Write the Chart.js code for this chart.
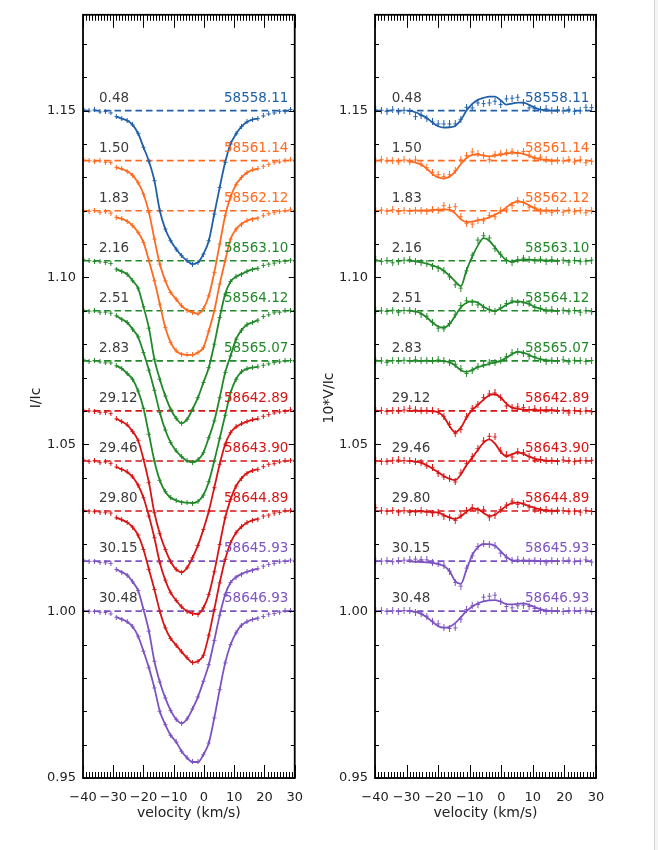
<!DOCTYPE html>
<html>
<head>
<meta charset="utf-8">
<script src="https://cdn.jsdelivr.net/npm/chart.js@4.4.0/dist/chart.umd.min.js"></script>
<style>
html, body { margin: 0; padding: 0; background: #fff; }
#wrap { position: relative; width: 658px; height: 850px; overflow: hidden; }
canvas { position: absolute; top: 0; }
#edge { position: absolute; left: 654px; top: 0; width: 4px; height: 850px; background: #f4f4f4; border-left: 1px solid #d4d4d4; }
</style>
</head>
<body>
<div id="wrap">
  <canvas id="stokesI" width="315" height="850" style="left:0"></canvas>
  <canvas id="stokesV" width="343" height="850" style="left:315px"></canvas>
  <div id="edge"></div>
</div>
<script>
// velocity grid of the observed points (km/s)
const vel = [-39.8, -38.0, -36.2, -34.4, -32.6, -30.8, -29.0, -27.2, -25.4, -23.6,
             -21.8, -20.0, -18.2, -16.4, -14.6, -12.8, -11.0, -9.2, -7.4, -5.6,
             -3.8, -2.0, -0.2, 1.6, 3.4, 5.2, 7.0, 8.8, 10.6, 12.4,
             14.2, 16.0, 17.8, 19.6, 21.4, 23.2, 25.0, 26.8, 28.6];
// the fit covers vel[6] .. vel[32]
const fitFrom = 6, fitTo = 33;

const xTicks = [-40, -30, -20, -10, 0, 10, 20, 30];
const yTicks = [0.95, 1.00, 1.05, 1.10, 1.15];

const phases = ['0.48', '1.50', '1.83', '2.16', '2.51', '2.83', '29.12', '29.46', '29.80', '30.15', '30.48'];
const dates = ['58558.11', '58561.14', '58562.12', '58563.10', '58564.12', '58565.07',
               '58642.89', '58643.90', '58644.89', '58645.93', '58646.93'];
const offsets = [0.150, 0.135, 0.120, 0.105, 0.090, 0.075, 0.060, 0.045, 0.030, 0.015, 0.000];

// Stokes I / Ic
const i58558 = [1.0004, 0.9999, 1.0002, 0.9996, 0.9997, 0.9993,
  0.9982, 0.9976, 0.9970, 0.9957, 0.9932, 0.9890, 0.9848, 0.9790, 0.9700, 0.9645, 0.9610, 0.9585, 0.9565, 0.9550,
  0.9540, 0.9545, 0.9570, 0.9610, 0.9690, 0.9770, 0.9845, 0.9900, 0.9930, 0.9952, 0.9966, 0.9973, 0.9976,
  0.9984, 0.9990, 0.9993, 0.9998, 0.9997, 1.0003];
const i58561 = [1.0002, 1.0000, 0.9997, 0.9999, 0.9995, 0.9994,
  0.9980, 0.9975, 0.9968, 0.9956, 0.9934, 0.9900, 0.9845, 0.9765, 0.9690, 0.9640, 0.9605, 0.9585, 0.9565, 0.9552,
  0.9545, 0.9541, 0.9556, 0.9595, 0.9665, 0.9750, 0.9835, 0.9892, 0.9928, 0.9950, 0.9964, 0.9972, 0.9976,
  0.9983, 0.9989, 0.9995, 0.9996, 1.0001, 1.0002];
const i58562 = [1.0001, 0.9998, 1.0001, 0.9995, 0.9997, 0.9993,
  0.9980, 0.9976, 0.9968, 0.9955, 0.9935, 0.9905, 0.9850, 0.9790, 0.9720, 0.9650, 0.9605, 0.9580, 0.9570, 0.9568,
  0.9568, 0.9575, 0.9590, 0.9640, 0.9700, 0.9780, 0.9850, 0.9915, 0.9945, 0.9960, 0.9970, 0.9975, 0.9978,
  0.9985, 0.9991, 0.9994, 0.9998, 1.0000, 1.0003];
const i58563 = [1.0003, 1.0000, 0.9998, 0.9997, 0.9995, 0.9992,
  0.9975, 0.9968, 0.9960, 0.9940, 0.9918, 0.9862, 0.9798, 0.9705, 0.9645, 0.9595, 0.9555, 0.9528, 0.9513, 0.9525,
  0.9555, 0.9590, 0.9635, 0.9680, 0.9750, 0.9830, 0.9900, 0.9938, 0.9952, 0.9960, 0.9968, 0.9974, 0.9977,
  0.9986, 0.9990, 0.9993, 0.9997, 0.9999, 1.0002];
const i58564 = [1.0002, 0.9999, 1.0000, 0.9996, 0.9996, 0.9993,
  0.9985, 0.9975, 0.9965, 0.9945, 0.9922, 0.9875, 0.9822, 0.9762, 0.9695, 0.9643, 0.9605, 0.9580, 0.9563, 0.9550,
  0.9546, 0.9553, 0.9575, 0.9620, 0.9670, 0.9740, 0.9815, 0.9865, 0.9915, 0.9942, 0.9958, 0.9965, 0.9972,
  0.9983, 0.9988, 0.9994, 0.9996, 1.0000, 1.0002];
const i58565 = [1.0003, 0.9998, 1.0001, 0.9997, 0.9994, 0.9994,
  0.9985, 0.9977, 0.9962, 0.9945, 0.9910, 0.9858, 0.9780, 0.9700, 0.9642, 0.9608, 0.9590, 0.9582, 0.9577, 0.9575,
  0.9574, 0.9579, 0.9598, 0.9638, 0.9700, 0.9768, 0.9837, 0.9905, 0.9945, 0.9967, 0.9976, 0.9980, 0.9982,
  0.9987, 0.9991, 0.9995, 0.9997, 1.0001, 1.0001];
const i58642 = [1.0002, 1.0000, 0.9999, 0.9996, 0.9996, 0.9992,
  0.9976, 0.9968, 0.9958, 0.9938, 0.9912, 0.9855, 0.9785, 0.9695, 0.9632, 0.9585, 0.9548, 0.9525, 0.9516, 0.9530,
  0.9560, 0.9597, 0.9645, 0.9700, 0.9770, 0.9840, 0.9900, 0.9935, 0.9952, 0.9961, 0.9968, 0.9973, 0.9976,
  0.9984, 0.9989, 0.9994, 0.9997, 0.9999, 1.0003];
const i58643 = [1.0003, 0.9999, 1.0001, 0.9995, 0.9997, 0.9993,
  0.9982, 0.9975, 0.9967, 0.9952, 0.9928, 0.9890, 0.9835, 0.9770, 0.9695, 0.9643, 0.9605, 0.9582, 0.9563, 0.9550,
  0.9543, 0.9541, 0.9560, 0.9600, 0.9668, 0.9750, 0.9830, 0.9885, 0.9925, 0.9948, 0.9963, 0.9971, 0.9975,
  0.9983, 0.9990, 0.9992, 0.9997, 1.0000, 1.0002];
const i58644 = [1.0002, 1.0000, 0.9998, 0.9997, 0.9995, 0.9994,
  0.9980, 0.9974, 0.9966, 0.9952, 0.9928, 0.9885, 0.9825, 0.9765, 0.9700, 0.9650, 0.9618, 0.9598, 0.9578, 0.9560,
  0.9546, 0.9550, 0.9568, 0.9628, 0.9705, 0.9785, 0.9855, 0.9905, 0.9935, 0.9953, 0.9965, 0.9972, 0.9976,
  0.9985, 0.9988, 0.9994, 0.9996, 1.0001, 1.0002];
const i58645 = [1.0003, 0.9999, 1.0000, 0.9996, 0.9995, 0.9993,
  0.9975, 0.9967, 0.9958, 0.9938, 0.9912, 0.9855, 0.9790, 0.9700, 0.9638, 0.9590, 0.9552, 0.9526, 0.9514, 0.9527,
  0.9557, 0.9593, 0.9640, 0.9690, 0.9762, 0.9838, 0.9900, 0.9936, 0.9952, 0.9961, 0.9968, 0.9973, 0.9977,
  0.9985, 0.9990, 0.9993, 0.9998, 0.9999, 1.0003];
const i58646 = [1.0002, 1.0000, 0.9999, 0.9997, 0.9996, 0.9992,
  0.9982, 0.9976, 0.9968, 0.9953, 0.9925, 0.9880, 0.9830, 0.9770, 0.9700, 0.9660, 0.9628, 0.9608, 0.9580, 0.9560,
  0.9548, 0.9548, 0.9570, 0.9605, 0.9680, 0.9765, 0.9845, 0.9900, 0.9935, 0.9958, 0.9968, 0.9975, 0.9979,
  0.9984, 0.9991, 0.9993, 0.9997, 1.0001, 1.0002];

// 10*V/Ic, observed
const v58558 = [0.0002, 0.0001, -0.0003, 0.0002, -0.0004, 0.0001,
  -0.0002, -0.0018, -0.0015, -0.0024, -0.0034, -0.0040, -0.0040, -0.0040, -0.0040, -0.0026, 0.0010, 0.0008, 0.0023, 0.0021,
  0.0023, 0.0028, 0.0018, 0.0035, 0.0037, 0.0040, 0.0023, 0.0008, 0.0006, 0.0003, 0.0005, 0.0000, 0.0002,
  -0.0001, 0.0004, -0.0002, -0.0001, 0.0010, 0.0009];
const v58561 = [0.0001, 0.0003, -0.0001, 0.0000, -0.0004, 0.0002,
  -0.0004, 0.0002, -0.0010, -0.0021, -0.0035, -0.0042, -0.0047, -0.0042, -0.0030, 0.0002, 0.0015, 0.0026, 0.0021, 0.0016,
  0.0004, 0.0019, 0.0022, 0.0024, 0.0028, 0.0021, 0.0027, 0.0017, 0.0006, 0.0010, 0.0004, -0.0002, 0.0001,
  -0.0001, 0.0003, -0.0004, 0.0002, -0.0006, -0.0002];
const v58562 = [0.0001, 0.0002, -0.0001, 0.0003, -0.0003, 0.0001,
  -0.0001, 0.0001, 0.0000, -0.0002, 0.0003, 0.0001, 0.0015, 0.0010, 0.0012, -0.0018, -0.0038, -0.0040, -0.0028, -0.0030,
  -0.0014, -0.0018, 0.0001, 0.0005, 0.0016, 0.0030, 0.0026, 0.0011, 0.0009, -0.0003, 0.0002, -0.0005, 0.0001,
  -0.0004, 0.0002, -0.0003, 0.0001, -0.0006, 0.0000];
const v58563 = [0.0003, -0.0002, 0.0001, -0.0006, -0.0003, 0.0002,
  0.0004, -0.0001, -0.0004, -0.0008, -0.0016, -0.0022, -0.0030, -0.0048, -0.0072, -0.0082, -0.0030, 0.0017, 0.0062, 0.0075,
  0.0068, 0.0036, 0.0020, 0.0001, -0.0005, 0.0004, 0.0008, 0.0004, 0.0002, 0.0005, -0.0002, 0.0003, -0.0001,
  0.0002, -0.0004, 0.0001, -0.0003, -0.0001, 0.0002];
const v58564 = [0.0001, 0.0000, -0.0002, 0.0002, -0.0004, 0.0001,
  0.0002, -0.0003, -0.0010, -0.0016, -0.0034, -0.0052, -0.0054, -0.0038, -0.0012, 0.0016, 0.0030, 0.0026, 0.0018, 0.0010,
  0.0004, -0.0002, 0.0009, 0.0022, 0.0030, 0.0025, 0.0024, 0.0023, 0.0010, 0.0008, 0.0000, 0.0003, -0.0001,
  0.0002, -0.0003, 0.0001, -0.0004, 0.0000, -0.0003];
const v58565 = [0.0002, 0.0000, -0.0005, 0.0001, 0.0000, 0.0002,
  0.0001, 0.0003, 0.0001, 0.0002, 0.0000, 0.0003, 0.0001, -0.0006, -0.0010, -0.0024, -0.0038, -0.0030, -0.0016, -0.0012,
  -0.0004, -0.0006, 0.0000, 0.0013, 0.0024, 0.0028, 0.0022, 0.0014, 0.0012, 0.0003, -0.0001, 0.0002, 0.0000,
  0.0003, -0.0003, 0.0002, 0.0001, -0.0002, 0.0001];
const v58642 = [0.0002, 0.0001, -0.0002, 0.0001, 0.0000, 0.0003,
  0.0008, 0.0003, 0.0002, 0.0002, 0.0001, -0.0002, -0.0016, -0.0040, -0.0068, -0.0055, -0.0018, 0.0008, 0.0020, 0.0040,
  0.0051, 0.0054, 0.0040, 0.0015, 0.0011, 0.0012, 0.0010, 0.0004, 0.0006, 0.0001, 0.0003, 0.0002, 0.0000,
  0.0002, -0.0006, 0.0001, -0.0002, 0.0000, -0.0003];
const v58643 = [0.0001, -0.0001, -0.0002, 0.0002, 0.0003, 0.0001,
  0.0000, -0.0003, -0.0004, -0.0015, -0.0020, -0.0037, -0.0048, -0.0052, -0.0063, -0.0036, -0.0008, 0.0013, 0.0037, 0.0060,
  0.0074, 0.0072, 0.0030, 0.0018, 0.0012, 0.0028, 0.0025, 0.0014, 0.0003, 0.0004, 0.0001, 0.0002, -0.0001,
  0.0003, 0.0001, -0.0002, 0.0002, 0.0001, 0.0002];
const v58644 = [0.0010, 0.0001, 0.0000, 0.0002, -0.0003, 0.0001,
  -0.0004, -0.0003, 0.0001, -0.0003, -0.0006, -0.0004, -0.0015, -0.0018, -0.0028, -0.0012, 0.0002, 0.0010, 0.0003, 0.0004,
  -0.0018, -0.0012, 0.0004, 0.0018, 0.0030, 0.0020, 0.0024, 0.0012, 0.0005, 0.0002, 0.0004, -0.0002, 0.0003,
  0.0001, -0.0002, 0.0000, -0.0003, 0.0002, -0.0001];
const v58645 = [0.0001, 0.0000, 0.0001, -0.0002, 0.0001, 0.0003,
  0.0004, 0.0006, 0.0005, 0.0004, -0.0003, -0.0006, -0.0012, -0.0030, -0.0064, -0.0075, -0.0021, 0.0016, 0.0044, 0.0052,
  0.0050, 0.0046, 0.0024, 0.0010, 0.0003, 0.0004, 0.0003, -0.0001, 0.0002, 0.0000, -0.0005, 0.0002, 0.0000,
  0.0001, 0.0003, -0.0002, 0.0000, 0.0004, -0.0003];
const v58646 = [0.0001, 0.0002, -0.0001, 0.0001, 0.0000, 0.0002,
  0.0001, -0.0003, -0.0006, -0.0015, -0.0030, -0.0038, -0.0048, -0.0052, -0.0050, -0.0024, 0.0005, 0.0016, 0.0020, 0.0042,
  0.0045, 0.0048, 0.0030, 0.0014, 0.0010, 0.0016, 0.0018, 0.0014, 0.0008, 0.0002, -0.0001, 0.0002, 0.0001,
  -0.0001, 0.0002, 0.0001, 0.0002, 0.0003, -0.0002];

// 10*V/Ic, model on vel[6..32]
const vFit58558 = [0.0000, -0.0005, -0.0013, -0.0022, -0.0036, -0.0047, -0.0051, -0.0050, -0.0046, -0.0028,
  0.0000, 0.0020, 0.0032, 0.0038, 0.0042, 0.0042, 0.0031, 0.0018, 0.0021, 0.0024, 0.0024, 0.0017, 0.0009, 0.0003, 0.0001, 0.0000, 0.0000];
const vFit58561 = [-0.0003, -0.0006, -0.0012, -0.0024, -0.0040, -0.0050, -0.0053, -0.0048, -0.0033, -0.0010,
  0.0008, 0.0017, 0.0018, 0.0015, 0.0013, 0.0015, 0.0018, 0.0021, 0.0023, 0.0023, 0.0020, 0.0014, 0.0008, 0.0004, 0.0002, 0.0001, 0.0000];
const vFit58562 = [0.0000, 0.0000, 0.0001, 0.0001, 0.0002, 0.0003, 0.0004, 0.0003, -0.0008, -0.0026,
  -0.0034, -0.0033, -0.0029, -0.0025, -0.0020, -0.0012, -0.0003, 0.0010, 0.0022, 0.0027, 0.0025, 0.0016, 0.0007, 0.0002, 0.0000, 0.0000, 0.0000];
const vFit58563 = [0.0000, -0.0002, -0.0005, -0.0009, -0.0014, -0.0020, -0.0030, -0.0045, -0.0062, -0.0076,
  -0.0028, 0.0012, 0.0046, 0.0068, 0.0060, 0.0040, 0.0018, 0.0002, -0.0003, 0.0000, 0.0003, 0.0003, 0.0002, 0.0001, 0.0001, 0.0000, 0.0000];
const vFit58564 = [0.0000, -0.0002, -0.0008, -0.0020, -0.0035, -0.0047, -0.0050, -0.0040, -0.0015, 0.0010,
  0.0024, 0.0028, 0.0024, 0.0012, 0.0003, 0.0000, 0.0007, 0.0018, 0.0026, 0.0028, 0.0026, 0.0020, 0.0012, 0.0006, 0.0002, 0.0000, 0.0000];
const vFit58565 = [0.0000, 0.0000, 0.0000, 0.0000, 0.0000, 0.0000, -0.0001, -0.0004, -0.0014, -0.0028,
  -0.0033, -0.0027, -0.0019, -0.0014, -0.0009, -0.0005, 0.0000, 0.0009, 0.0020, 0.0027, 0.0025, 0.0018, 0.0010, 0.0005, 0.0002, 0.0000, 0.0000];
const vFit58642 = [0.0000, 0.0000, 0.0000, 0.0000, -0.0001, -0.0004, -0.0018, -0.0045, -0.0064, -0.0050,
  -0.0020, 0.0003, 0.0018, 0.0034, 0.0047, 0.0050, 0.0040, 0.0022, 0.0010, 0.0006, 0.0004, 0.0003, 0.0003, 0.0002, 0.0002, 0.0002, 0.0001];
const vFit58643 = [0.0000, -0.0002, -0.0006, -0.0013, -0.0023, -0.0034, -0.0045, -0.0054, -0.0057, -0.0040,
  -0.0012, 0.0010, 0.0033, 0.0055, 0.0065, 0.0052, 0.0028, 0.0014, 0.0020, 0.0025, 0.0021, 0.0013, 0.0007, 0.0003, 0.0001, 0.0000, 0.0000];
const vFit58644 = [0.0000, 0.0000, -0.0001, -0.0002, -0.0003, -0.0005, -0.0012, -0.0020, -0.0024, -0.0016,
  -0.0002, 0.0007, 0.0006, -0.0006, -0.0015, -0.0011, 0.0002, 0.0015, 0.0024, 0.0025, 0.0021, 0.0015, 0.0009, 0.0005, 0.0002, 0.0001, 0.0000];
const vFit58645 = [-0.0001, -0.0002, -0.0003, -0.0004, -0.0006, -0.0009, -0.0015, -0.0030, -0.0060, -0.0068,
  -0.0025, 0.0018, 0.0042, 0.0051, 0.0051, 0.0046, 0.0030, 0.0013, 0.0002, 0.0000, 0.0001, 0.0001, 0.0001, 0.0000, 0.0000, 0.0000, 0.0000];
const vFit58646 = [0.0000, -0.0002, -0.0008, -0.0018, -0.0032, -0.0045, -0.0050, -0.0047, -0.0036, -0.0018,
  0.0000, 0.0014, 0.0023, 0.0029, 0.0032, 0.0033, 0.0028, 0.0021, 0.0020, 0.0022, 0.0023, 0.0019, 0.0012, 0.0006, 0.0002, 0.0000, 0.0000];

const iObs = [i58558, i58561, i58562, i58563, i58564, i58565, i58642, i58643, i58644, i58645, i58646];
const vObs = [v58558, v58561, v58562, v58563, v58564, v58565, v58642, v58643, v58644, v58645, v58646];
const vFit = [vFit58558, vFit58561, vFit58562, vFit58563, vFit58564, vFit58565, vFit58642, vFit58643, vFit58644, vFit58645, vFit58646];

const blue = '#2160a9', orange = '#ff6a1f', green = '#22892a', red = '#d81414', purple = '#7d53c2';
const colours = [blue, orange, orange, green, green, green, red, red, red, purple, purple];

Chart.defaults.font.family = '"DejaVu Sans", sans-serif';
Chart.defaults.font.size = 13;
Chart.defaults.color = '#222';

// small "+" symbol with a vertical error bar
function marker(col, half) {
  const c = document.createElement('canvas');
  c.width = 5;
  c.height = 2 * half + 1;
  const g = c.getContext('2d');
  g.fillStyle = col;
  g.fillRect(2, 0, 1, c.height);
  g.fillRect(0.5, half, 4, 1);
  return c;
}

function buildSets(obs, fits, base, half) {
  const sets = [];
  obs.forEach((prof, p) => {
    const off = offsets[p];
    const col = colours[p];
    const fit = fits ? fits[p] : prof.slice(fitFrom, fitTo);
    sets.push({
      data: fit.map((y, k) => ({ x: vel[fitFrom + k], y: base + y + off })),
      showLine: true, borderColor: col, borderWidth: 1.8, pointRadius: 0,
      cubicInterpolationMode: 'monotone', order: 1
    });
    sets.push({
      data: prof.map((y, k) => ({ x: vel[k], y: base + y + off })),
      showLine: false, pointStyle: marker(col, half), pointRadius: 2, order: 2
    });
    sets.push({
      data: [{ x: -40, y: 1 + off }, { x: 30, y: 1 + off }],
      showLine: true, borderColor: col, borderWidth: 1.6, borderDash: [6.5, 4], pointRadius: 0, order: 3
    });
  });
  return sets;
}

const framePlugin = {
  id: 'frame',
  afterDatasetsDraw(chart) {
    const { ctx, scales: { x, y } } = chart;
    ctx.save();
    ctx.font = '13.5px "DejaVu Sans", sans-serif';
    ctx.textBaseline = 'middle';
    offsets.forEach((off, p) => {
      const py = y.getPixelForValue(1 + off + 0.0037);
      ctx.fillStyle = '#3c3c3c';
      ctx.textAlign = 'left';
      ctx.fillText(phases[p], x.getPixelForValue(-34.7), py);
      ctx.fillStyle = colours[p];
      ctx.textAlign = 'right';
      ctx.fillText(dates[p], x.getPixelForValue(27.9), py);
    });
    ctx.restore();
  },
  afterDraw(chart, args, opts) {
    const { ctx, chartArea: a, scales: { x, y } } = chart;
    ctx.save();
    ctx.strokeStyle = '#000';
    ctx.lineWidth = 1;
    ctx.beginPath();
    for (let v = -40; v <= 30; v++) {
      const px = Math.round(x.getPixelForValue(v)) + 0.5;
      const len = v % 10 === 0 ? 13 : 6;
      ctx.moveTo(px, a.bottom); ctx.lineTo(px, a.bottom - len);
      ctx.moveTo(px, a.top); ctx.lineTo(px, a.top + len);
    }
    for (let k = 95; k <= 117; k++) {
      const py = Math.round(y.getPixelForValue(k / 100)) + 0.5;
      const len = k % 5 === 0 ? 6 : 4;
      ctx.moveTo(a.left, py); ctx.lineTo(a.left + len, py);
      ctx.moveTo(a.right, py); ctx.lineTo(a.right - len, py);
    }
    ctx.stroke();
    ctx.lineWidth = 1.8;
    ctx.strokeRect(a.left, a.top, a.right - a.left, a.bottom - a.top);

    ctx.fillStyle = '#222';
    ctx.font = '14px "DejaVu Sans", sans-serif';
    ctx.textAlign = 'center';
    ctx.textBaseline = 'middle';
    ctx.fillText('velocity (km/s)', (a.left + a.right) / 2, 813);
    ctx.translate(opts.titleX, 398);
    ctx.rotate(-Math.PI / 2);
    ctx.fillText(opts.title, 0, 0);
    ctx.restore();
  }
};

function makePanel(id, sets, yWidth, rightPad, title, titleX) {
  return new Chart(document.getElementById(id), {
    type: 'scatter',
    data: { datasets: sets },
    plugins: [framePlugin],
    options: {
      responsive: false,
      animation: false,
      events: [],
      layout: { padding: { left: 0, right: rightPad, top: 14, bottom: 0 } },
      plugins: { legend: { display: false }, tooltip: { enabled: false }, frame: { title, titleX } },
      scales: {
        x: {
          type: 'linear', min: -40, max: 30,
          grid: { display: false, drawTicks: false }, border: { display: false },
          afterBuildTicks: s => { s.ticks = xTicks.map(value => ({ value })); },
          afterFit: s => { s.height = 72; },
          ticks: {
            padding: 12, maxRotation: 0, autoSkip: false, color: '#222',
            callback: v => v < 0 ? '\u2212' + Math.abs(v) : String(v)
          }
        },
        y: {
          type: 'linear', min: 0.95, max: 1.1787,
          grid: { display: false, drawTicks: false }, border: { display: false },
          afterBuildTicks: s => { s.ticks = yTicks.map(value => ({ value })); },
          afterFit: s => { s.width = yWidth; },
          ticks: { padding: 7, autoSkip: false, color: '#222', callback: v => v.toFixed(2) }
        }
      }
    }
  });
}

makePanel('stokesI', buildSets(iObs, null, 0, 2), 83, 11, 'I/Ic', 36);
makePanel('stokesV', buildSets(vObs, vFit, 1, 3), 60, 62, '10*V/Ic', 14);
</script>
</body>
</html>
